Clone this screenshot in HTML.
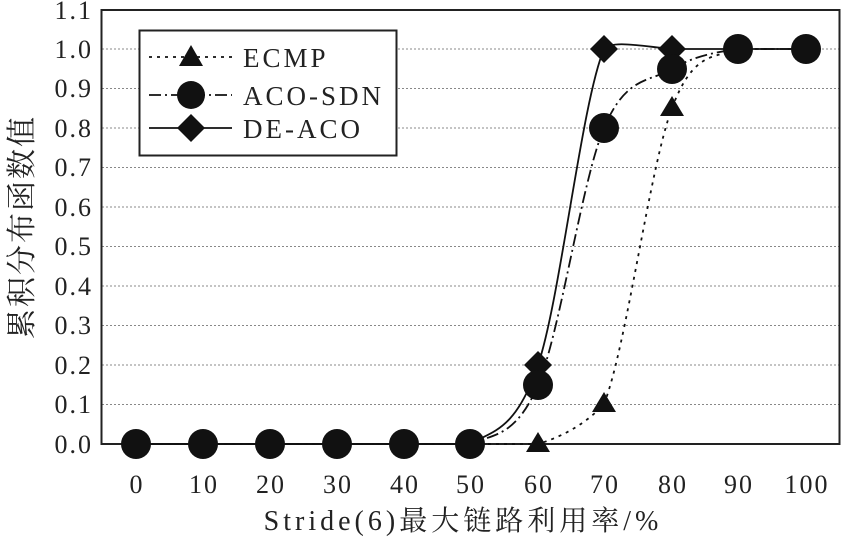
<!DOCTYPE html>
<html><head><meta charset="utf-8"><style>
body{margin:0;background:#fff}
svg{display:block}
text{font-family:"Liberation Serif","Noto Serif CJK SC",serif;fill:#222}
</style></head><body>
<svg width="842" height="538" viewBox="0 0 842 538" xmlns="http://www.w3.org/2000/svg">
<g stroke="#888" stroke-width="1" stroke-dasharray="2,2">
<line x1="102" x2="839" y1="404.5" y2="404.5"/>
<line x1="102" x2="839" y1="365" y2="365"/>
<line x1="102" x2="839" y1="325.5" y2="325.5"/>
<line x1="102" x2="839" y1="286" y2="286"/>
<line x1="102" x2="839" y1="246.5" y2="246.5"/>
<line x1="102" x2="839" y1="207" y2="207"/>
<line x1="102" x2="839" y1="167.5" y2="167.5"/>
<line x1="102" x2="839" y1="128" y2="128"/>
<line x1="102" x2="839" y1="88.5" y2="88.5"/>
<line x1="102" x2="839" y1="49" y2="49"/>
</g>
<rect x="101.5" y="10" width="738" height="434" fill="none" stroke="#222" stroke-width="2"/>
<g font-size="26" text-anchor="end" letter-spacing="2">
<text x="93" y="453">0.0</text><text x="93" y="413">0.1</text><text x="93" y="374">0.2</text>
<text x="93" y="334">0.3</text><text x="93" y="295">0.4</text><text x="93" y="255">0.5</text>
<text x="93" y="216">0.6</text><text x="93" y="176">0.7</text><text x="93" y="137">0.8</text>
<text x="93" y="97">0.9</text><text x="93" y="58">1.0</text><text x="93" y="19">1.1</text>
</g>
<g font-size="26" text-anchor="middle" letter-spacing="2">
<text x="137" y="493">0</text><text x="204" y="493">10</text><text x="271" y="493">20</text>
<text x="338" y="493">30</text><text x="405" y="493">40</text><text x="471" y="493">50</text>
<text x="539" y="493">60</text><text x="605" y="493">70</text><text x="673" y="493">80</text>
<text x="739" y="493">90</text><text x="807" y="493">100</text>
</g>
<text x="463" y="530" font-size="28" text-anchor="middle" letter-spacing="4">Stride(6)最大链路利用率/%</text>
<text transform="translate(32,227) rotate(-90)" font-size="30" text-anchor="middle" letter-spacing="2">累积分布函数值</text>
<g fill="none" stroke="#111" stroke-width="1.8">
<path d="M136,444 L538,444 C560.3,437.3 585,425 604,404 C626.3,348 649.7,167 672,108 C694.3,49 715.7,58.8 738,49 L806,49" stroke-dasharray="3,5"/>
<path d="M136,444 L470,444 C492.5,434.2 515.7,437.7 538,385 C560.3,332.3 581.7,180.7 604,128 C626.3,75.3 649.7,82.2 672,69 C694.3,55.8 715.7,52.3 738,49 L806,49" stroke-dasharray="12,4,2,4"/>
<path d="M136,444 L470,444 C492.5,430.8 515.7,430.8 538,365 C560.3,299.2 581.7,101.7 604,49 C612,40 640,46 672,49 L806,49"/>
</g>
<g fill="#111">
<polygon points="538,432 550,452 526,452"/>
<polygon points="604,392 616,412 592,412"/>
<polygon points="672,96 684,116 660,116"/>
<polygon points="136,430 150,444 136,458 122,444"/>
<polygon points="203,430 217,444 203,458 189,444"/>
<polygon points="270,430 284,444 270,458 256,444"/>
<polygon points="337,430 351,444 337,458 323,444"/>
<polygon points="404,430 418,444 404,458 390,444"/>
<polygon points="470,430 484,444 470,458 456,444"/>
<polygon points="538,351 552,365 538,379 524,365"/>
<polygon points="604,35 618,49 604,63 590,49"/>
<polygon points="672,35 686,49 672,63 658,49"/>
<circle cx="136" cy="444" r="15"/><circle cx="203" cy="444" r="15"/><circle cx="270" cy="444" r="15"/>
<circle cx="337" cy="444" r="15"/><circle cx="404" cy="444" r="15"/><circle cx="470" cy="444" r="15"/>
<circle cx="538" cy="385" r="15"/><circle cx="604" cy="128" r="15"/><circle cx="672" cy="69" r="15"/>
<circle cx="738" cy="49" r="15"/><circle cx="806" cy="49" r="15"/>
</g>
<rect x="139.5" y="30.5" width="257" height="125" fill="#fff" stroke="#222" stroke-width="2"/>
<g stroke="#111" stroke-width="1.8">
<line x1="149" x2="232" y1="57" y2="57" stroke-dasharray="3,5"/>
<line x1="149" x2="232" y1="95" y2="95" stroke-dasharray="12,4,2,4"/>
<line x1="149" x2="232" y1="128" y2="128"/>
</g>
<g fill="#111">
<polygon points="191,45 203,66 179,66"/>
<circle cx="191" cy="95" r="14"/>
<polygon points="191,114 205,128 191,142 177,128"/>
</g>
<g font-size="27" letter-spacing="3">
<text x="243" y="67">ECMP</text>
<text x="243" y="105">ACO-SDN</text>
<text x="243" y="138">DE-ACO</text>
</g>
</svg>
</body></html>
